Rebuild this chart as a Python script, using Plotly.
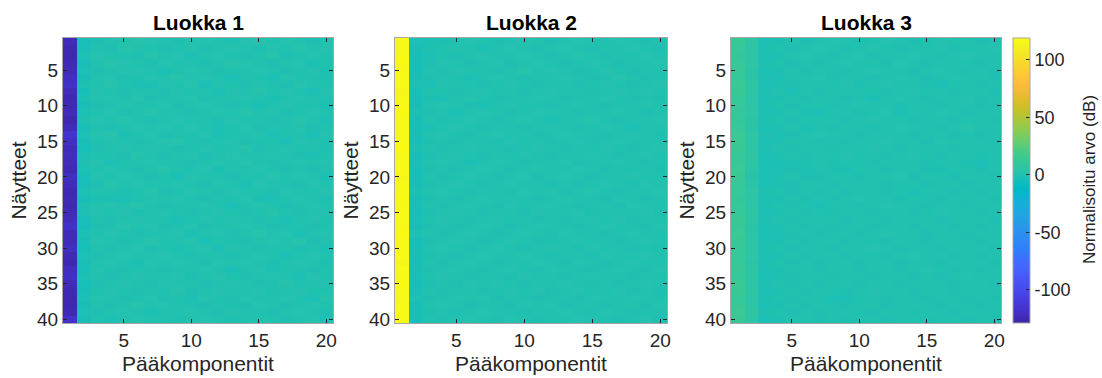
import plotly.graph_objects as go
from plotly.subplots import make_subplots

# Normalised principal-component values (dB), 40 samples x 20 components per class
class1_rows = """
-124 -4 -1 0 1 2 1 0 -1 0 1 0 -1 1 2 0 1 0 -1 0
-126 -3 0 -1 2 1 0 -1 0 1 -1 0 1 0 -1 1 0 2 0 1
-127 -2 1 0 0 -1 2 0 1 -2 0 1 0 -1 0 2 -1 0 1 0
-125 -3 0 2 1 0 -1 1 0 0 -1 0 2 1 0 -1 0 1 -2 0
-123 -2 -1 0 1 1 0 -2 0 1 0 -1 0 0 1 0 -1 0 1 -1
-121 -3 0 1 -1 0 1 0 2 0 1 0 -2 0 0 -2 1 0 0 -1
-119 -1 0 2 0 -2 -2 1 0 2 -2 1 0 -1 1 0 -1 2 0 0
-124 -4 1 0 -1 0 0 -1 1 0 0 -2 1 0 2 0 1 0 -2 1
-126 -2 0 1 0 2 -1 0 0 1 -1 0 0 1 0 -2 0 1 0 0
-125 -3 -1 0 1 0 0 1 -1 0 1 0 -1 0 -2 0 1 0 0 -2
-124 -2 0 1 -1 0 2 0 0 -1 0 1 0 2 0 1 -1 0 1 0
-127 -1 1 0 2 0 -1 0 1 0 0 -1 1 0 0 -1 0 2 0 -1
-123 -3 0 -1 0 1 0 1 0 2 0 -2 0 1 -1 0 0 1 -1 0
-116 -2 1 2 -2 0 1 -1 0 0 1 -2 0 0 1 -2 0 0 -2 1
-120 -3 0 1 0 -1 0 1 2 0 -1 0 1 -1 0 0 -2 1 0 0
-123 -4 -1 0 1 0 1 0 -1 0 1 0 0 2 -1 0 1 0 0 -1
-122 -2 0 0 -1 2 0 -1 0 1 -1 0 2 0 0 1 0 -1 -2 0
-124 -1 1 -2 0 0 1 0 0 -1 0 1 0 2 0 -1 0 1 0 1
-125 -2 0 1 0 -1 0 2 0 0 1 -2 0 0 1 0 -1 0 -1 0
-121 -4 1 0 1 0 -1 0 -2 1 0 0 -1 0 0 2 0 1 0 -2
-123 -3 -1 2 0 1 0 0 1 0 -1 1 0 -2 1 0 0 -1 1 0
-126 -2 0 0 -1 0 2 -1 0 1 0 -1 1 0 0 -1 1 0 0 1
-125 -3 -2 -1 -2 0 1 0 1 0 -1 0 0 1 -1 -2 0 1 0 -1
-126 -1 0 1 0 2 0 -1 0 0 1 0 -2 0 1 0 -1 0 1 0
-124 -2 1 0 1 -1 0 1 0 -1 0 1 0 -1 0 2 0 -1 0 1
-122 -3 0 -1 0 1 0 0 -2 0 1 0 1 0 -1 0 -2 0 1 0
-119 -4 -1 0 2 0 1 -1 0 1 -1 0 0 1 0 -1 0 0 -1 0
-123 -2 0 1 0 -1 0 0 1 -2 0 1 -1 0 2 0 1 -2 0 1
-124 -3 1 0 -1 0 2 0 0 1 -2 0 0 -1 0 1 0 2 -1 0
-121 -4 0 -1 0 1 -1 0 -2 0 1 -2 1 0 -1 0 0 -1 0 -2
-125 -2 -1 0 1 0 0 1 0 -1 0 0 -1 0 1 0 -2 0 1 0
-126 -3 0 1 0 -2 1 0 1 0 -1 1 0 1 0 -1 0 1 0 -1
-122 -4 1 0 -1 0 0 -1 0 0 1 0 -2 0 1 -2 0 0 -1 0
-120 -2 0 -1 0 1 0 0 1 -1 0 2 0 -1 0 1 0 -2 1 0
-124 -4 -1 0 1 0 -1 1 0 0 -1 0 1 0 -1 0 2 0 0 1
-126 -3 0 1 0 -1 0 0 2 -1 0 1 0 0 1 -1 0 1 0 0
-127 -2 1 0 -1 0 1 -1 0 -2 1 0 -1 1 0 0 1 0 -2 2
-126 -3 0 -1 0 2 0 1 0 0 -1 0 0 -1 1 0 -1 0 1 0
-125 -2 -1 0 1 0 -2 0 0 1 0 -1 1 0 0 -1 0 1 0 -1
-118 -3 0 -2 0 1 0 0 -1 0 1 0 -1 0 1 0 -1 0 1 -2
"""

class2_rows = """
116 -2 -2 -1 0 1 0 -1 0 1 0 -1 0 1 0 0 1 0 -1 0
115 -3 -1 0 1 0 -2 0 1 0 -1 0 1 0 -1 0 0 1 0 -1
116 -4 -2 0 -1 0 1 0 0 1 0 -1 0 2 0 -1 0 0 1 0
117 -4 -1 1 0 -1 0 1 -1 0 1 0 -1 0 1 0 -1 0 0 1
115 -4 0 -1 1 0 0 -1 0 2 0 1 0 -1 0 1 0 -1 0 0
116 -3 -1 0 0 -2 0 1 0 -1 0 0 1 0 -1 0 2 0 -1 0
116 -2 -2 1 0 0 -1 0 1 0 -1 0 0 -1 0 1 0 -1 0 1
114 -4 0 0 -1 0 1 0 0 -1 0 1 0 0 -1 0 1 0 1 0
115 -4 -1 -2 0 1 0 -1 0 0 1 0 -1 0 0 1 0 -1 0 -1
116 -3 0 1 0 -1 -2 0 1 0 0 -1 0 1 0 -1 0 0 1 0
117 -2 -1 0 -2 0 1 0 -1 0 1 0 0 -1 0 0 1 0 -1 0
115 -4 0 -1 0 1 0 -1 0 1 0 -2 0 0 1 0 -1 0 0 1
116 -4 -2 0 1 0 -1 0 0 -1 0 1 0 -1 0 1 0 -2 0 0
115 -3 0 1 0 -1 0 1 0 0 -1 0 1 0 0 -1 0 1 0 -1
116 -4 -1 0 -1 0 0 -1 1 0 0 -1 0 1 -1 0 1 0 0 0
117 -2 0 -1 0 1 0 0 -1 0 1 0 -1 0 0 1 0 -1 0 1
115 -4 -1 0 1 0 -1 0 0 1 0 -1 0 0 1 0 -1 0 1 0
116 -3 0 1 0 -2 0 1 0 -1 0 0 1 -1 0 0 1 0 -1 0
116 -4 -1 0 -1 0 1 0 -1 0 1 0 0 1 0 -1 0 0 0 -1
114 -4 0 -1 0 1 0 -1 0 1 -1 0 1 0 -1 0 0 1 0 0
115 -3 -1 0 1 0 -1 0 1 0 0 -1 0 -1 0 1 0 -1 1 0
116 -2 0 1 0 -1 0 0 -1 1 0 1 -1 0 1 0 -1 0 0 1
117 -4 -1 0 -1 0 1 0 0 0 -1 0 1 0 0 -1 1 0 -1 0
115 -3 0 -1 0 1 0 -1 1 0 0 1 0 -1 0 0 -1 1 0 0
116 -4 -1 0 1 0 -1 0 0 -1 1 0 0 1 -1 0 0 0 1 -1
116 -4 0 1 0 -1 0 1 0 0 -1 0 -1 0 1 0 1 -1 0 0
115 -3 -1 0 -1 0 1 0 -1 0 1 0 0 -1 0 1 0 0 -1 1
117 -2 0 -1 0 1 0 -1 0 1 0 -1 1 0 0 -1 0 1 0 0
116 -4 -1 0 1 0 -1 0 1 0 -1 0 0 1 0 0 -1 0 1 0
115 -4 0 1 0 -1 0 1 0 -1 0 1 0 -1 1 0 0 -1 0 -1
116 -3 -1 0 -1 0 1 0 0 1 0 -1 0 0 -1 1 0 0 1 0
114 -4 0 -1 0 1 0 -1 0 0 1 0 -1 1 0 -1 0 1 0 0
116 -3 -1 0 1 0 -1 0 1 0 -1 1 0 0 -1 0 1 0 -1 1
115 -4 0 1 0 -1 0 0 -1 1 0 0 -1 0 1 0 0 -1 0 0
117 -4 -1 0 -1 1 0 1 0 -1 0 0 1 0 -1 0 -1 0 1 0
116 -3 0 -1 0 0 -1 0 1 0 1 -1 0 1 0 0 1 -1 0 -1
115 -2 -1 0 1 0 1 -1 0 0 -1 0 0 -1 1 0 0 1 0 0
116 -4 0 1 0 -1 0 0 -1 1 0 1 -1 0 0 -1 0 0 -1 1
116 -3 -1 0 -1 0 1 0 0 -1 0 0 1 0 -1 1 0 -1 0 0
115 -4 0 -1 0 1 0 -1 1 0 -1 0 0 1 0 0 -1 0 1 -1
"""

class3_rows = """
13 7 -2 -1 0 -1 0 1 0 -1 0 1 0 -1 0 1 0 0 -1 0
12 6 -1 0 -1 0 1 0 -1 0 1 0 -1 0 0 1 -1 0 0 1
11 6 -2 -1 0 1 0 -1 0 1 -1 0 0 1 0 -1 0 1 0 0
12 6 -1 0 -1 0 -1 0 1 0 0 -1 1 0 -1 0 0 0 -1 0
13 5 -2 -1 0 -1 0 0 -1 0 1 0 0 -1 0 1 0 -1 0 -1
12 5 -1 -2 0 0 1 -1 0 0 -1 0 1 0 -1 0 1 0 0 -1
14 6 -2 -1 -1 0 0 0 1 -1 0 1 0 0 -1 -2 0 0 -1 0
13 6 -1 0 -2 0 -1 0 0 0 0 -1 0 1 0 0 -1 0 0 -1
12 5 -2 -1 0 -1 0 0 -1 0 -2 0 1 0 -1 0 0 1 -1 0
12 6 -1 0 -1 0 0 -1 0 1 0 0 -1 0 0 -1 0 0 -1 0
11 6 -2 -1 0 -1 -2 0 0 -1 0 1 -2 0 0 1 0 -1 0 0
11 5 -1 0 -1 0 0 0 -1 0 1 0 0 -1 0 0 -1 0 0 -1
12 5 -2 -1 0 -2 0 -1 0 0 -1 0 1 0 0 -1 0 2 0 0
14 6 -1 -2 -1 0 1 0 0 -1 0 0 0 -1 0 0 -1 0 -1 0
14 6 -2 -1 0 0 -1 0 -1 0 0 1 0 0 -1 1 0 0 0 -1
13 6 -1 0 -1 0 0 -1 0 0 1 0 -1 0 0 0 -1 0 0 0
12 7 -2 -1 0 -1 0 0 1 0 0 -1 0 1 0 -1 0 0 -1 0
12 6 -2 -2 -1 -1 0 -1 0 0 -1 0 0 0 -1 0 0 -1 -2 0
14 5 -2 -2 -1 -2 0 -1 -2 0 0 -1 0 0 -1 -2 0 0 -1 0
13 3 -2 -1 0 -1 -1 0 0 -1 0 0 1 -1 0 0 -1 0 0 -1
12 5 -2 -1 -1 0 0 -1 0 0 0 -1 0 0 -1 0 0 -1 0 0
12 6 -1 0 -1 0 -1 0 -1 0 0 -1 0 -2 0 0 -1 0 -1 0
11 6 -2 -1 0 -1 0 -1 0 1 0 0 -1 0 0 -1 0 0 0 -1
12 5 -1 0 -1 0 -2 0 0 -1 0 1 0 0 -1 0 0 -1 0 0
12 6 -2 -1 0 -1 0 -1 0 0 -1 0 0 -1 0 1 0 0 -1 0
13 6 -1 0 -1 0 0 0 -1 0 0 -1 0 0 0 -1 0 0 0 -1
12 5 -2 -1 0 -1 0 -1 0 0 -1 0 0 -1 0 0 -1 0 -1 0
14 5 -2 -2 -1 0 -1 0 0 -1 0 1 0 0 -1 0 0 -1 0 0
13 6 -2 -1 0 -1 0 0 -1 0 0 -1 0 0 -1 0 0 0 -1 0
12 6 -1 0 -1 0 0 -1 0 0 1 0 -1 0 0 -1 0 0 0 -1
12 6 -2 -1 0 -1 0 0 -1 0 0 -1 0 1 0 0 -1 0 -1 0
12 5 -1 0 -1 0 -1 0 0 -1 0 0 -1 0 0 -1 0 0 0 -1
13 6 -2 -1 0 0 -1 0 0 -1 0 0 -1 0 1 0 -1 0 -1 0
12 6 -2 -1 -1 0 0 -1 0 0 -1 0 0 -1 0 -1 0 1 0 0
14 6 -1 0 -1 0 -1 0 0 -1 0 0 -1 0 0 0 -1 0 0 -1
13 6 -2 -1 0 -1 0 0 -1 0 1 0 0 -1 0 0 -1 0 0 0
12 5 -1 0 -1 0 0 -2 -2 0 0 -1 0 0 -1 0 0 -1 0 -1
13 6 -2 -1 0 -1 0 0 -1 0 0 -1 0 0 0 -1 0 0 -1 0
14 7 -1 0 -1 0 -1 0 0 0 -1 0 0 -1 0 0 -1 0 0 0
13 6 -2 -1 0 0 -1 0 -1 0 0 -1 0 0 -1 0 0 -1 0 -1
"""


def parse(block):
    return [[float(v) for v in line.split()] for line in block.strip().splitlines()]


class1 = parse(class1_rows)
class2 = parse(class2_rows)
class3 = parse(class3_rows)

components = list(range(1, 21))
samples = list(range(1, 41))
titles = ["Luokka 1", "Luokka 2", "Luokka 3"]
x_ticks = [5, 10, 15, 20]
y_ticks = [5, 10, 15, 20, 25, 30, 35, 40]
cbar_ticks = [-100, -50, 0, 50, 100]
cbar_ticktext = ["-100", "-50", "0", "50", "100"]
cbar_title = "Normalisoitu arvo (dB)"
z_min, z_max = -129, 119

# MATLAB parula colormap (64 entries)
parula = [
    (0.2422, 0.1504, 0.6603), (0.2504, 0.1650, 0.7076), (0.2578, 0.1818, 0.7511), (0.2647, 0.1978, 0.7952),
    (0.2706, 0.2147, 0.8364), (0.2751, 0.2342, 0.8710), (0.2783, 0.2559, 0.8991), (0.2803, 0.2782, 0.9221),
    (0.2813, 0.3006, 0.9414), (0.2810, 0.3228, 0.9579), (0.2795, 0.3447, 0.9717), (0.2760, 0.3667, 0.9829),
    (0.2699, 0.3892, 0.9906), (0.2602, 0.4123, 0.9952), (0.2440, 0.4358, 0.9988), (0.2206, 0.4603, 0.9973),
    (0.1963, 0.4847, 0.9892), (0.1834, 0.5074, 0.9798), (0.1786, 0.5289, 0.9682), (0.1764, 0.5499, 0.9520),
    (0.1687, 0.5703, 0.9359), (0.1540, 0.5902, 0.9218), (0.1460, 0.6091, 0.9079), (0.1380, 0.6276, 0.8973),
    (0.1248, 0.6459, 0.8883), (0.1113, 0.6635, 0.8763), (0.0952, 0.6798, 0.8598), (0.0689, 0.6948, 0.8394),
    (0.0297, 0.7082, 0.8163), (0.0036, 0.7203, 0.7917), (0.0067, 0.7312, 0.7660), (0.0433, 0.7411, 0.7394),
    (0.0964, 0.7500, 0.7120), (0.1408, 0.7584, 0.6842), (0.1717, 0.7670, 0.6554), (0.1938, 0.7758, 0.6251),
    (0.2161, 0.7843, 0.5923), (0.2470, 0.7918, 0.5567), (0.2906, 0.7973, 0.5188), (0.3406, 0.8008, 0.4789),
    (0.3909, 0.8029, 0.4354), (0.4456, 0.8024, 0.3909), (0.5044, 0.7993, 0.3480), (0.5616, 0.7942, 0.3045),
    (0.6174, 0.7876, 0.2612), (0.6720, 0.7793, 0.2227), (0.7242, 0.7698, 0.1910), (0.7738, 0.7598, 0.1646),
    (0.8203, 0.7498, 0.1535), (0.8634, 0.7406, 0.1596), (0.9035, 0.7330, 0.1774), (0.9393, 0.7288, 0.2100),
    (0.9728, 0.7298, 0.2394), (0.9956, 0.7434, 0.2371), (0.9970, 0.7659, 0.2199), (0.9952, 0.7893, 0.2028),
    (0.9892, 0.8136, 0.1885), (0.9814, 0.8386, 0.1760), (0.9738, 0.8639, 0.1651), (0.9665, 0.8901, 0.1527),
    (0.9614, 0.9167, 0.1390), (0.9608, 0.9441, 0.1201), (0.9646, 0.9728, 0.0958), (0.9763, 0.9831, 0.0538),
]
colorscale = [
    [i / (len(parula) - 1), "rgb({:.0f},{:.0f},{:.0f})".format(r * 255, g * 255, b * 255)]
    for i, (r, g, b) in enumerate(parula)
]

# Figure geometry in pixels: the plot area spans the three panels
W, H = 1102, 378
ML, MR, MT, MB = 63, 101, 38, 55
PW = W - ML - MR
PH = H - MT - MB
panel_px = [(63, 333), (395, 667), (731, 1001)]
domains_x = [((a - ML) / PW, (b - ML) / PW) for a, b in panel_px]

FONT = "Liberation Sans, Arial, Helvetica, sans-serif"
TXT = "#262626"
FRAME = "#a6a6a6"

fig = make_subplots(rows=1, cols=3)

for i, z in enumerate([class1, class2, class3]):
    fig.add_trace(
        go.Heatmap(
            z=z, x=components, y=samples,
            coloraxis="coloraxis",
            hovertemplate="Komponentti %{x}<br>Näyte %{y}<br>%{z:.1f} dB<extra></extra>",
        ),
        row=1, col=i + 1,
    )
    xa = "xaxis" if i == 0 else f"xaxis{i + 1}"
    ya = "yaxis" if i == 0 else f"yaxis{i + 1}"
    fig.layout[xa].update(
        domain=domains_x[i], range=[0.5, 20.5], tickvals=x_ticks,
        ticks="inside", ticklen=4, tickcolor=TXT, mirror="allticks",
        showline=True, linecolor=FRAME, linewidth=1, showgrid=False, zeroline=False,
        automargin=False,
        tickfont=dict(family=FONT, size=19, color=TXT),
        title=dict(text="Pääkomponentit", font=dict(family=FONT, size=21, color=TXT), standoff=6),
    )
    fig.layout[ya].update(
        domain=[0, 1], range=[40.5, 0.5], tickvals=y_ticks,
        ticks="inside", ticklen=4, tickcolor=TXT, mirror="allticks",
        showline=True, linecolor=FRAME, linewidth=1, showgrid=False, zeroline=False,
        automargin=False,
        tickfont=dict(family=FONT, size=19, color=TXT),
        title=dict(text="Näytteet", font=dict(family=FONT, size=21, color=TXT), standoff=4),
    )
    fig.add_annotation(
        text=f"<b>{titles[i]}</b>", xref="paper", yref="paper",
        x=(domains_x[i][0] + domains_x[i][1]) / 2, y=1 + (MT - 22) / PH,
        xanchor="center", yanchor="middle", showarrow=False,
        font=dict(family=FONT, size=21, color="black"),
    )

# Colorbar label, written vertically to the right of the tick labels
fig.add_annotation(
    text=cbar_title, xref="paper", yref="paper",
    x=(1089 - ML) / PW, y=1 - (180 - MT) / PH,
    xanchor="center", yanchor="middle", textangle=-90, showarrow=False,
    font=dict(family=FONT, size=17, color=TXT),
)

fig.update_layout(
    width=W, height=H,
    margin=dict(l=ML, r=MR, t=MT, b=MB, autoexpand=False),
    paper_bgcolor="white", plot_bgcolor="white",
    showlegend=False,
    coloraxis=dict(
        colorscale=colorscale, cmin=z_min, cmax=z_max,
        colorbar=dict(
            x=(1013 - ML) / PW, xanchor="left", xref="paper",
            y=0.5, yanchor="middle", len=1, lenmode="fraction",
            thickness=17, thicknessmode="pixels", xpad=0, ypad=0,
            outlinecolor=FRAME, outlinewidth=1,
            tickvals=cbar_ticks, ticktext=cbar_ticktext,
            ticks="inside", ticklen=4, tickcolor=TXT,
            tickfont=dict(family=FONT, size=18, color=TXT),
        ),
    ),
)

fig.write_html("out.html")
